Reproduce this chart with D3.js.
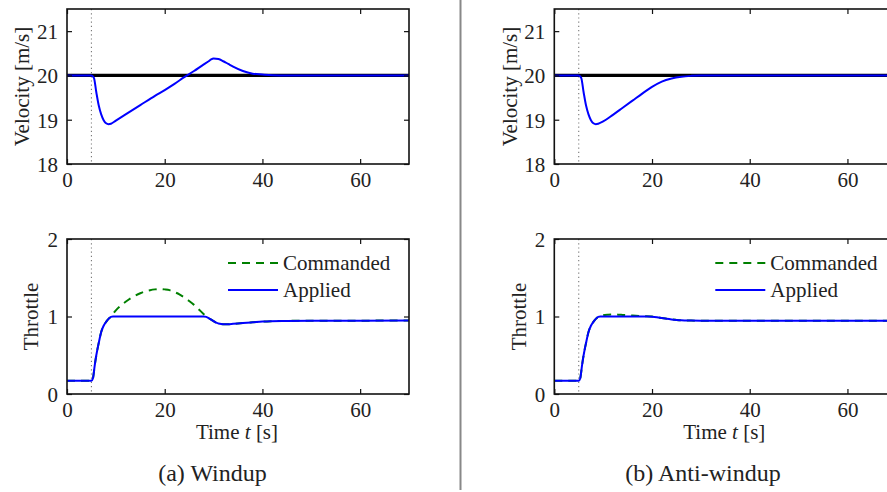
<!DOCTYPE html>
<html><head><meta charset="utf-8">
<script src="https://cdn.jsdelivr.net/npm/d3@7"></script>
<style>
body{margin:0;background:#fff;}
svg{display:block;}
</style></head>
<body>
<svg id="c" width="887" height="492"></svg>
<script>
// ---------- data ----------
const xTicks = [0, 20, 40, 60];
const velTicks = [18, 19, 20, 21];
const thrTicks = [0, 1, 2];
const stepTime = 5;
const refVelocity = 20;

const tVelWindup = [0,5,5.5,6,6.5,7,7.5,8,8.5,9,10,12,15,18,20,22,24,26,28,29,29.5,30,31,32,33,34,36,38,40,42,45,70];
const velWindup  = [20,20,19.95,19.62,19.32,19.12,18.99,18.92,18.9,18.91,18.98,19.12,19.33,19.54,19.67,19.81,19.96,20.1,20.25,20.32,20.36,20.38,20.37,20.32,20.26,20.2,20.1,20.04,20.02,20.005,20,20];

const tVelAnti = [0,5,5.5,6,6.5,7,7.5,8,8.5,9,10,12,14,16,18,20,22,24,26,28,30,32,70];
const velAnti  = [20,20,19.95,19.62,19.32,19.12,18.99,18.92,18.9,18.91,18.96,19.11,19.27,19.43,19.59,19.74,19.86,19.93,19.97,19.99,20,20,20];

const tThrApplWindup = [0,5,5.3,5.7,6,6.5,7,7.5,8,8.5,9,9.4,28,28.5,29,29.5,30,30.5,31,32,33,34,36,38,40,45,50,70];
const thrApplWindup  = [0.17,0.17,0.2,0.38,0.5,0.66,0.8,0.88,0.93,0.97,0.995,1,1,0.995,0.98,0.96,0.94,0.92,0.91,0.9,0.9,0.905,0.915,0.925,0.935,0.943,0.946,0.947];

const tThrCmdWindup = [0,5,5.3,5.7,6,6.5,7,7.5,8,8.5,9,9.5,10,11,12,13,14,15,16,17,18,19,20,21,22,23,24,25,26,27,28,28.5,29,29.5,30,30.5,31,32,33,34,36,38,40,45,50,70];
const thrCmdWindup  = [0.17,0.17,0.2,0.38,0.5,0.66,0.8,0.88,0.93,0.97,0.995,1.04,1.08,1.14,1.19,1.235,1.27,1.3,1.325,1.34,1.35,1.355,1.35,1.34,1.315,1.285,1.245,1.2,1.15,1.09,1.03,1.0,0.98,0.96,0.94,0.92,0.91,0.9,0.9,0.905,0.915,0.925,0.935,0.943,0.946,0.947];

const tThrApplAnti = [0,5,5.3,5.7,6,6.5,7,7.5,8,8.5,9,9.4,19,20,21,22,23,24,25,26,28,30,35,70];
const thrApplAnti  = [0.17,0.17,0.2,0.38,0.5,0.66,0.8,0.88,0.93,0.97,0.995,1,1,0.997,0.99,0.98,0.97,0.962,0.956,0.951,0.947,0.945,0.945,0.945];

const tThrCmdAnti = [0,5,5.3,5.7,6,6.5,7,7.5,8,8.5,9,9.4,10,11,12,13,14,16,18,20,21,22,23,24,25,26,28,30,35,70];
const thrCmdAnti  = [0.17,0.17,0.2,0.38,0.5,0.66,0.8,0.88,0.93,0.97,0.995,1.005,1.015,1.022,1.025,1.024,1.02,1.012,1.005,1.0,0.99,0.98,0.97,0.962,0.956,0.951,0.947,0.945,0.945,0.945];

const legendLabels = ["Commanded", "Applied"];
const captions = ["(a) Windup", "(b) Anti-windup"];

// ---------- drawing ----------
const FONT = '"Liberation Serif", "Times New Roman", serif';
const svg = d3.select("#c").style("font-family", FONT);
const FS = 21;
const plotW = 342;
const colLeft = [67, 554.3];
const velBox = {top: 9, bottom: 164};
const thrBox = {top: 239, bottom: 394};
const blue = "#0000ff", green = "#008000";

function zip(ts, vs){ return ts.map((t,i)=>[t, vs[i]]); }
function txt(sel){ return sel.style("font-family", FONT).attr("fill", "#222"); }

function panel(x0, box, yDomain, yTicks, ylabel, ylabelOffset, showXLabel, series, legend){
  const x = d3.scaleLinear().domain([0,70]).range([x0, x0+plotW]);
  const y = d3.scaleLinear().domain(yDomain).range([box.bottom, box.top]);
  const g = svg.append("g");
  const clipId = "clip" + Math.round(x0) + "_" + box.top;
  svg.append("clipPath").attr("id", clipId).append("rect")
    .attr("x", x0).attr("y", box.top).attr("width", plotW).attr("height", box.bottom-box.top);
  const pg = g.append("g").attr("clip-path", `url(#${clipId})`);

  // step marker
  pg.append("line").attr("x1", x(stepTime)).attr("x2", x(stepTime))
    .attr("y1", box.top).attr("y2", box.bottom)
    .attr("stroke", "#777").attr("stroke-width", 1.1).attr("stroke-dasharray", "1.2,3");

  const line = d3.line().x(d=>x(d[0])).y(d=>y(d[1])).curve(d3.curveMonotoneX);
  series.forEach(s=>{
    pg.append("path").datum(s.data).attr("d", line).attr("fill","none")
      .attr("stroke", s.color).attr("stroke-width", s.width)
      .attr("stroke-dasharray", s.dash || null);
  });

  // axes (inward ticks on all sides)
  const tl = 5;
  const bottomAx = g.append("g").attr("transform", `translate(0,${box.bottom})`)
    .call(d3.axisBottom(x).tickValues(xTicks).tickSize(-tl).tickPadding(tl+3).tickFormat(d3.format("d")));
  const topAx = g.append("g").attr("transform", `translate(0,${box.top})`)
    .call(d3.axisTop(x).tickValues(xTicks).tickSize(-tl).tickFormat(""));
  const leftAx = g.append("g").attr("transform", `translate(${x0},0)`)
    .call(d3.axisLeft(y).tickValues(yTicks).tickSize(-tl).tickPadding(tl+4).tickFormat(d3.format("d")));
  const rightAx = g.append("g").attr("transform", `translate(${x0+plotW},0)`)
    .call(d3.axisRight(y).tickValues(yTicks).tickSize(-tl).tickFormat(""));
  [bottomAx, topAx, leftAx, rightAx].forEach(a=>{
    a.attr("font-family", null).attr("font-size", null);
    a.select(".domain").remove();
    a.selectAll("line").attr("stroke","#111").attr("stroke-width",1.2);
    txt(a.selectAll("text").attr("font-size", FS));
  });
  bottomAx.selectAll("text").attr("dy", "0.71em");
  leftAx.selectAll("text").attr("dy", "0.35em");

  g.append("rect").attr("x", x0).attr("y", box.top).attr("width", plotW)
    .attr("height", box.bottom-box.top).attr("fill","none")
    .attr("stroke","#111").attr("stroke-width",1.6);

  // y label
  const cy = (box.top+box.bottom)/2;
  txt(g.append("text").attr("transform", `translate(${x0-ylabelOffset},${cy}) rotate(-90)`)
    .attr("text-anchor","middle").attr("dy","0.35em").attr("font-size", FS).text(ylabel));

  if (showXLabel){
    const tx = txt(g.append("text").attr("x", x0+170).attr("y", box.bottom+45)
      .attr("text-anchor","middle").attr("font-size", FS));
    tx.append("tspan").text("Time ");
    tx.append("tspan").attr("font-style","italic").text("t");
    tx.append("tspan").text(" [s]");
  }

  if (legend){
    const lx = x0 + 161;
    legend.forEach((L,i)=>{
      const ly = 263 + i*27;
      g.append("line").attr("x1", lx).attr("x2", lx+50).attr("y1", ly).attr("y2", ly)
        .attr("stroke", L.color).attr("stroke-width", 2).attr("stroke-dasharray", L.dash || null);
      txt(g.append("text").attr("x", lx+55).attr("y", ly).attr("dy","0.33em")
        .attr("font-size", FS).text(L.label));
    });
  }
}

const velSets = [[tVelWindup, velWindup], [tVelAnti, velAnti]];
const thrSets = [[tThrCmdWindup, thrCmdWindup, tThrApplWindup, thrApplWindup],
                 [tThrCmdAnti, thrCmdAnti, tThrApplAnti, thrApplAnti]];

[0,1].forEach(k=>{
  const x0 = colLeft[k];
  panel(x0, velBox, [18, 21.5], velTicks, "Velocity [m/s]", 45, false, [
    {data: [[0, refVelocity],[70, refVelocity]], color:"#000", width:3.2},
    {data: zip(velSets[k][0], velSets[k][1]), color: blue, width:2}
  ], null);
  panel(x0, thrBox, [0, 2], thrTicks, "Throttle", 36, true, [
    {data: zip(thrSets[k][0], thrSets[k][1]), color: green, width:2, dash:"8,6"},
    {data: zip(thrSets[k][2], thrSets[k][3]), color: blue, width:2}
  ], [
    {label: legendLabels[0], color: green, dash:"8,6"},
    {label: legendLabels[1], color: blue}
  ]);
});

// separator
svg.append("line").attr("x1", 460.5).attr("x2", 460.5).attr("y1", 0).attr("y2", 490)
  .attr("stroke", "#888").attr("stroke-width", 2);

// captions
const capX = [212.5, 703];
captions.forEach((c,i)=>{
  txt(svg.append("text").attr("x", capX[i]).attr("y", 481).attr("text-anchor","middle")
    .attr("font-size", 24).text(c));
});
</script>
</body></html>
